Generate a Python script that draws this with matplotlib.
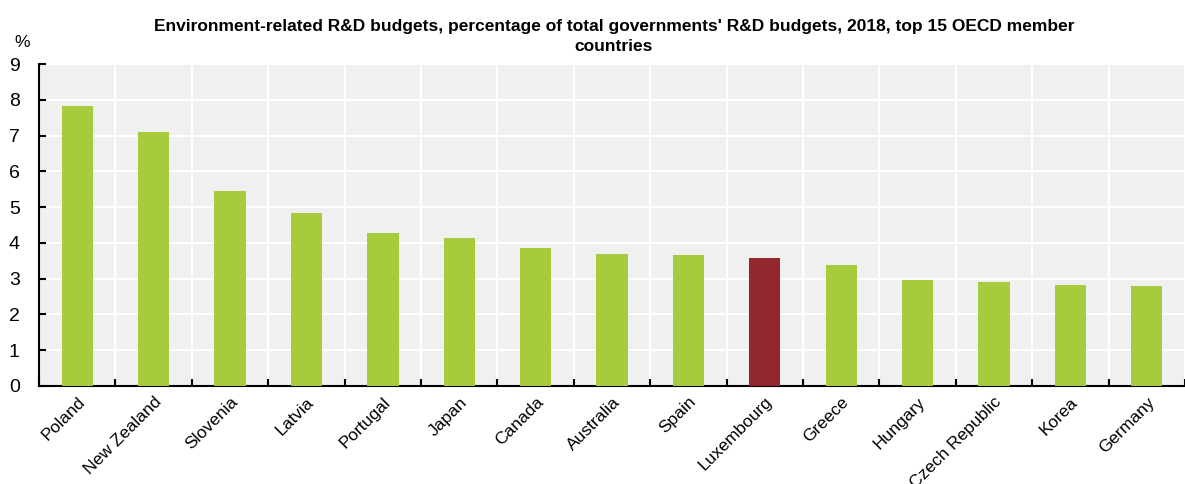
import matplotlib
matplotlib.use("Agg")
import matplotlib.pyplot as plt
from matplotlib import font_manager
import numpy as np

countries = ["Poland", "New Zealand", "Slovenia", "Latvia", "Portugal", "Japan",
             "Canada", "Australia", "Spain", "Luxembourg", "Greece", "Hungary",
             "Czech Republic", "Korea", "Germany"]
values = [7.82, 7.09, 5.45, 4.83, 4.27, 4.13, 3.85, 3.69, 3.66, 3.58, 3.38,
          2.96, 2.91, 2.82, 2.79]
highlight = "Luxembourg"

GREEN = "#a7cc3b"
RED = "#93272e"

plt.rcParams["font.family"] = ["Liberation Sans", "DejaVu Sans"]

names = {f.name for f in font_manager.fontManager.ttflist}
title_family = ["Liberation Sans Narrow"] if "Liberation Sans Narrow" in names else ["Liberation Sans"]

fig = plt.figure(figsize=(11.85, 4.84), dpi=100)
ax = fig.add_axes([0.033, 0.2025, 0.967, 0.665])
ax.set_facecolor("#f0f0f0")

x = np.arange(len(countries))
colors = [RED if c == highlight else GREEN for c in countries]
ax.bar(x, values, width=0.41, color=colors, zorder=3)

ax.set_xlim(-0.5, len(countries) - 0.5)
ax.set_ylim(0, 9)
ax.set_yticks(range(0, 10))
ax.set_xticks(x)
ax.set_xticklabels(countries, rotation=45, ha="right", rotation_mode="anchor",
                   fontsize=12.5)
ax.tick_params(axis="x", length=0, pad=6)
ax.set_xticks(np.arange(-0.5, len(countries)), minor=True)
ax.tick_params(axis="x", which="minor", direction="in", length=5, width=1.5)
ax.tick_params(axis="y", direction="in", length=5, width=1.5, labelsize=14, pad=14)

ax.grid(True, which="major", axis="y", color="white", lw=1.5, zorder=1)
ax.grid(True, which="minor", axis="x", color="white", lw=1.5, zorder=1)
ax.grid(False, which="major", axis="x")

for s in ["top", "right"]:
    ax.spines[s].set_visible(False)
ax.spines["left"].set_linewidth(1.5)
ax.spines["bottom"].set_linewidth(1.5)

fig.text(0.012, 0.913, "%", fontsize=12.5, ha="left", va="center")
fig.text(0.518, 0.925,
         "Environment-related R&D budgets, percentage of total governments' R&D budgets, 2018, top 15 OECD member\ncountries",
         ha="center", va="center", fontsize=12.5, fontweight="bold",
         family=title_family, linespacing=1.45)

fig.savefig("out.png", dpi=100)
